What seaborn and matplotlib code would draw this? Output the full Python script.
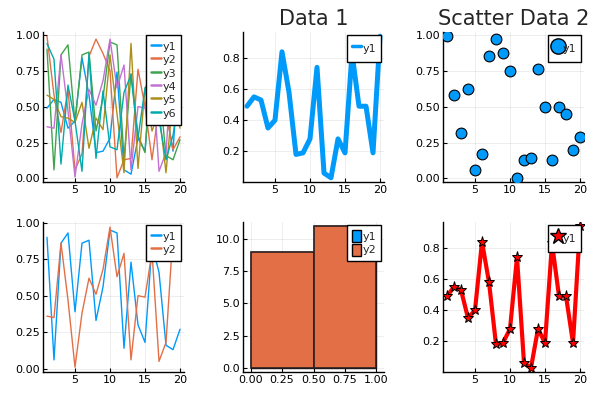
import matplotlib
matplotlib.use("Agg")
import matplotlib.pyplot as plt
from matplotlib.lines import Line2D
from matplotlib.patches import Patch
from matplotlib.ticker import MultipleLocator, FormatStrFormatter, FixedLocator
import seaborn as sns
import pandas as pd

# ---------------- data ----------------
x_idx = list(range(1, 21))
y1 = [0.49, 0.55, 0.53, 0.35, 0.40, 0.84, 0.58, 0.18, 0.19, 0.28,
      0.74, 0.06, 0.03, 0.28, 0.19, 0.83, 0.49, 0.49, 0.19, 0.94]
y2 = [0.99, 0.58, 0.32, 0.62, 0.06, 0.17, 0.85, 0.97, 0.87, 0.75,
      0.005, 0.13, 0.14, 0.76, 0.50, 0.13, 0.50, 0.45, 0.20, 0.29]
y3 = [0.90, 0.06, 0.86, 0.93, 0.39, 0.86, 0.88, 0.33, 0.56, 0.95,
      0.93, 0.14, 0.73, 0.30, 0.18, 0.85, 0.66, 0.16, 0.13, 0.27]
y4 = [0.36, 0.35, 0.86, 0.47, 0.01, 0.38, 0.62, 0.51, 0.68, 0.97,
      0.63, 0.79, 0.06, 0.50, 0.49, 0.80, 0.05, 0.18, 0.93, 0.82]
y5 = [0.58, 0.55, 0.43, 0.42, 0.39, 0.53, 0.21, 0.42, 0.34, 0.86,
      0.45, 0.04, 0.94, 0.07, 0.63, 0.33, 0.47, 0.04, 0.57, 0.35]
y6 = [0.94, 0.83, 0.10, 0.65, 0.40, 0.05, 0.87, 0.14, 0.61, 0.22,
      0.20, 0.60, 0.72, 0.28, 0.63, 0.71, 0.41, 0.13, 0.30, 0.61]
series_labels = ["y1", "y2", "y3", "y4", "y5", "y6"]

hist_edges = [0.0, 0.5, 1.0]
hist_centers = [0.25, 0.75]
hist_counts_y1 = [9, 11]
hist_counts_y2 = [9, 11]

title_data1 = "Data 1"
title_scatter = "Scatter Data 2"

palette = ["#009AFA", "#E36F47", "#3EA44E", "#C371D2", "#AC8E18", "#00AAAE"]

# ---------------- style ----------------
sns.set_theme(style="white")
plt.rcParams["font.family"] = ["DejaVu Sans"]

W, H = 603, 399
fig = plt.figure(figsize=(W / 100, H / 100), dpi=100)

def ax_at(left, top, width, height):
    return fig.add_axes([left / W, (H - top - height) / H, width / W, height / H])

ax1 = ax_at(43, 32, 141, 150)
ax2 = ax_at(243, 32, 141, 150)
ax3 = ax_at(443, 32, 141, 150)
ax4 = ax_at(43, 222, 141, 150)
ax5 = ax_at(243, 222, 141, 150)
ax6 = ax_at(443, 222, 141, 150)

TICK_FS = 8
LEG_FS = 8

def style(ax):
    for s in ["top", "right"]:
        ax.spines[s].set_visible(False)
    for s in ["left", "bottom"]:
        ax.spines[s].set_color("black")
        ax.spines[s].set_linewidth(1.0)
    ax.grid(True, color="black", alpha=0.08, linewidth=0.6)
    ax.set_axisbelow(True)
    ax.tick_params(axis="both", which="major", labelsize=TICK_FS, direction="in",
                   length=3, width=0.8, color="black", pad=2, labelcolor="black",
                   bottom=True, left=True)
    ax.set_xlabel("")
    ax.set_ylabel("")

def legend(ax, handles, labels, **kw):
    opts = dict(loc="upper right", fontsize=LEG_FS, frameon=True, fancybox=False,
                framealpha=1.0, edgecolor="black", borderpad=0.45, labelspacing=0.05,
                handlelength=0.9, handleheight=1.4, handletextpad=0.15,
                borderaxespad=0.25)
    opts.update(kw)
    leg = ax.legend(handles, labels, **opts)
    leg.get_frame().set_linewidth(1.0)
    return leg

ys = [y1, y2, y3, y4, y5, y6]

# Panel 1: six thin lines
for yv, c in zip(ys, palette):
    sns.lineplot(x=x_idx, y=yv, ax=ax1, color=c, linewidth=1.0)
ax1.margins(x=0.03, y=0.03)
ax1.xaxis.set_major_locator(FixedLocator([5, 10, 15, 20]))
ax1.yaxis.set_major_locator(MultipleLocator(0.25))
ax1.yaxis.set_major_formatter(FormatStrFormatter("%.2f"))
style(ax1)
legend(ax1, [Line2D([], [], color=c, lw=1.8) for c in palette], series_labels)

# Panel 2: thick line
sns.lineplot(x=x_idx, y=y1, ax=ax2, color=palette[0], linewidth=3.6)
ax2.margins(x=0.03, y=0.03)
ax2.xaxis.set_major_locator(FixedLocator([5, 10, 15, 20]))
ax2.yaxis.set_major_locator(MultipleLocator(0.2))
ax2.yaxis.set_major_formatter(FormatStrFormatter("%.1f"))
style(ax2)
ax2.set_title(title_data1, fontsize=15, pad=5)
legend(ax2, [Line2D([], [], color=palette[0], lw=2.5)], ["y1"],
       handleheight=2.0, handlelength=0.8)

# Panel 3: scatter
sns.scatterplot(x=x_idx, y=y2, ax=ax3, color=palette[0], s=60,
                edgecolor="black", linewidth=0.8, zorder=3)
ax3.margins(x=0.03, y=0.03)
ax3.xaxis.set_major_locator(FixedLocator([5, 10, 15, 20]))
ax3.yaxis.set_major_locator(MultipleLocator(0.25))
ax3.yaxis.set_major_formatter(FormatStrFormatter("%.2f"))
style(ax3)
ax3.set_title(title_scatter, fontsize=15, pad=5)
legend(ax3, [Line2D([], [], linestyle="none", marker="o", markersize=11,
                    markerfacecolor=palette[0], markeredgecolor="black")], ["y1"],
       handleheight=2.0, handlelength=0.8, handletextpad=0.05)

# Panel 4: two lines
sns.lineplot(x=x_idx, y=y3, ax=ax4, color=palette[0], linewidth=1.0)
sns.lineplot(x=x_idx, y=y4, ax=ax4, color=palette[1], linewidth=1.0)
ax4.margins(x=0.03)
ax4.set_ylim(-0.023, 1.005)
ax4.xaxis.set_major_locator(FixedLocator([5, 10, 15, 20]))
ax4.yaxis.set_major_locator(MultipleLocator(0.25))
ax4.yaxis.set_major_formatter(FormatStrFormatter("%.2f"))
style(ax4)
legend(ax4, [Line2D([], [], color=c, lw=1.8) for c in palette[:2]], ["y1", "y2"])

# Panel 5: histograms
hist_df = pd.DataFrame({"center": hist_centers * 2,
                        "count": hist_counts_y1 + hist_counts_y2,
                        "series": ["y1"] * 2 + ["y2"] * 2})
sns.histplot(data=hist_df[hist_df.series == "y1"], x="center", weights="count",
             bins=hist_edges, ax=ax5, color=palette[0], alpha=1.0,
             edgecolor="black", linewidth=1.0)
sns.histplot(data=hist_df[hist_df.series == "y2"], x="center", weights="count",
             bins=hist_edges, ax=ax5, color=palette[1], alpha=1.0,
             edgecolor="#2a2020", linewidth=1.2)
ax5.margins(x=0.06, y=0.03)
ax5.set_ylim(bottom=-0.33)
ax5.xaxis.set_major_locator(MultipleLocator(0.25))
ax5.xaxis.set_major_formatter(FormatStrFormatter("%.2f"))
ax5.yaxis.set_major_locator(MultipleLocator(2.5))
ax5.yaxis.set_major_formatter(FormatStrFormatter("%.1f"))
style(ax5)
legend(ax5, [Patch(facecolor=palette[0], edgecolor="black"),
             Patch(facecolor=palette[1], edgecolor="black")], ["y1", "y2"],
       handlelength=0.8, handleheight=1.3, labelspacing=0.15)

# Panel 6: red line with stars
sns.lineplot(x=x_idx, y=y1, ax=ax6, color="red", linewidth=3.0, marker="*",
             markersize=8, markerfacecolor="red", markeredgecolor="black",
             markeredgewidth=0.7)
ax6.margins(x=0.03, y=0.03)
ax6.xaxis.set_major_locator(FixedLocator([5, 10, 15, 20]))
ax6.yaxis.set_major_locator(MultipleLocator(0.2))
ax6.yaxis.set_major_formatter(FormatStrFormatter("%.1f"))
style(ax6)
legend(ax6, [Line2D([], [], linestyle="none", marker="*", markersize=12,
                    markerfacecolor="red", markeredgecolor="black")], ["y1"],
       handleheight=2.0, handlelength=0.8, handletextpad=0.05)

fig.savefig("out.png", dpi=100, facecolor="white")
